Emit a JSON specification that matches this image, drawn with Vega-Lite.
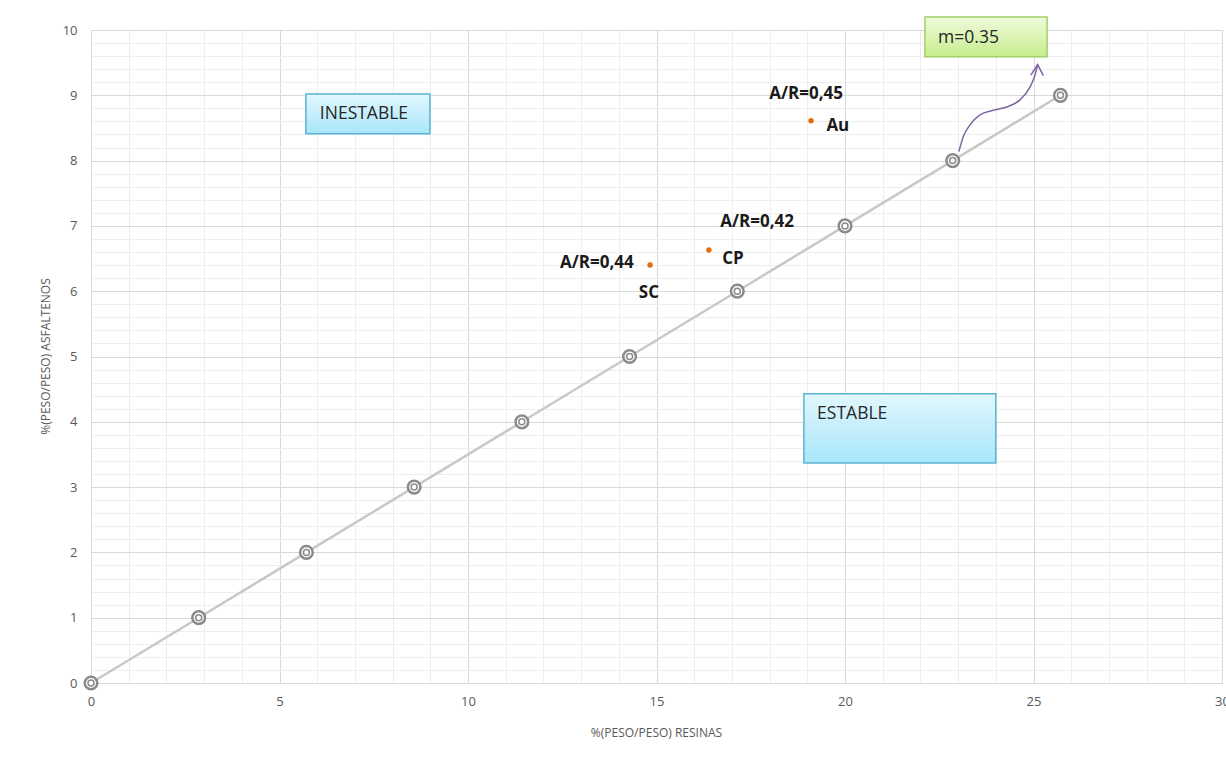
{
  "$schema": "https://vega.github.io/schema/vega-lite/v6.json",
  "width": 1131,
  "height": 653,
  "autosize": {"type": "none"},
  "padding": {"left": 91, "top": 30, "right": 4, "bottom": 79},
  "background": "white",
  "config": {"view": {"stroke": null}, "font": "Open Sans"},
  "datasets": {
    "linea": [
      {"resinas": 0, "asfaltenos": 0},
      {"resinas": 2.857, "asfaltenos": 1},
      {"resinas": 5.714, "asfaltenos": 2},
      {"resinas": 8.571, "asfaltenos": 3},
      {"resinas": 11.429, "asfaltenos": 4},
      {"resinas": 14.286, "asfaltenos": 5},
      {"resinas": 17.143, "asfaltenos": 6},
      {"resinas": 20, "asfaltenos": 7},
      {"resinas": 22.857, "asfaltenos": 8},
      {"resinas": 25.714, "asfaltenos": 9}
    ],
    "muestras": [
      {"resinas": 14.83, "asfaltenos": 6.40, "muestra": "SC"},
      {"resinas": 16.39, "asfaltenos": 6.63, "muestra": "CP"},
      {"resinas": 19.10, "asfaltenos": 8.61, "muestra": "Au"}
    ],
    "etiquetas": [
      {"resinas": 13.42, "asfaltenos": 6.43, "texto": "A/R=0,44"},
      {"resinas": 14.80, "asfaltenos": 5.97, "texto": "SC"},
      {"resinas": 17.67, "asfaltenos": 7.06, "texto": "A/R=0,42"},
      {"resinas": 17.03, "asfaltenos": 6.49, "texto": "CP"},
      {"resinas": 18.97, "asfaltenos": 9.02, "texto": "A/R=0,45"},
      {"resinas": 19.81, "asfaltenos": 8.53, "texto": "Au"}
    ],
    "cajas_azules": [
      {"resinas": 5.70, "resinas2": 8.99, "asfaltenos": 9.02, "asfaltenos2": 8.41},
      {"resinas": 18.91, "resinas2": 24.0, "asfaltenos": 4.43, "asfaltenos2": 3.37}
    ],
    "caja_verde": [
      {"resinas": 22.12, "resinas2": 25.36, "asfaltenos": 10.20, "asfaltenos2": 9.59}
    ],
    "textos_cajas": [
      {"resinas": 6.07, "asfaltenos": 8.71, "texto": "INESTABLE"},
      {"resinas": 19.26, "asfaltenos": 4.12, "texto": "ESTABLE"},
      {"resinas": 22.47, "asfaltenos": 9.88, "texto": "m=0.35"}
    ],
    "flecha": [
      {"resinas": 23.02, "asfaltenos": 8.14},
      {"resinas": 23.14, "asfaltenos": 8.37},
      {"resinas": 23.32, "asfaltenos": 8.55},
      {"resinas": 23.58, "asfaltenos": 8.70},
      {"resinas": 23.93, "asfaltenos": 8.77},
      {"resinas": 24.29, "asfaltenos": 8.82},
      {"resinas": 24.64, "asfaltenos": 8.93},
      {"resinas": 24.91, "asfaltenos": 9.13},
      {"resinas": 25.04, "asfaltenos": 9.31},
      {"resinas": 25.11, "asfaltenos": 9.47}
    ],
    "punta": [
      {"resinas": 24.93, "asfaltenos": 9.31},
      {"resinas": 25.11, "asfaltenos": 9.47},
      {"resinas": 25.26, "asfaltenos": 9.30}
    ]
  },
  "layer": [
    {
      "data": {"name": "linea"},
      "mark": {"type": "line", "color": "#c8c8c8", "strokeWidth": 2.5},
      "encoding": {
        "x": {
          "field": "resinas", "type": "quantitative",
          "scale": {"domain": [0, 30], "nice": false, "zero": false},
          "axis": {
            "title": "%(PESO/PESO) RESINAS",
            "values": [0,1,2,3,4,5,6,7,8,9,10,11,12,13,14,15,16,17,18,19,20,21,22,23,24,25,26,27,28,29,30],
            "tickCount": 100,
            "labelExpr": "datum.value % 5 === 0 ? format(datum.value, 'd') : ''",
            "gridColor": {"condition": {"test": "datum.value % 5 === 0", "value": "#d9d9d9"}, "value": "#eeeeee"},
            "gridWidth": 1,
            "domain": false, "ticks": false,
            "labelPadding": 12, "labelColor": "#595959", "labelFontSize": 13,
            "labelFlush": false, "labelOverlap": false,
            "titleColor": "#595959", "titleFontSize": 12, "titleFontWeight": "normal",
            "titleX": 565, "titleY": 49, "titleBaseline": "middle", "titleAlign": "center"
          }
        },
        "y": {
          "field": "asfaltenos", "type": "quantitative",
          "scale": {"domain": [0, 10], "nice": false, "zero": false},
          "axis": {
            "title": "%(PESO/PESO) ASFALTENOS",
            "values": [0,0.2,0.4,0.6,0.8,1,1.2,1.4,1.6,1.8,2,2.2,2.4,2.6,2.8,3,3.2,3.4,3.6,3.8,4,4.2,4.4,4.6,4.8,5,5.2,5.4,5.6,5.8,6,6.2,6.4,6.6,6.8,7,7.2,7.4,7.6,7.8,8,8.2,8.4,8.6,8.8,9,9.2,9.4,9.6,9.8,10],
            "tickCount": 100,
            "labelExpr": "abs(datum.value - round(datum.value)) < 0.001 ? format(datum.value, 'd') : ''",
            "gridColor": {"condition": {"test": "abs(datum.value - round(datum.value)) < 0.001", "value": "#d9d9d9"}, "value": "#eeeeee"},
            "gridWidth": 1,
            "domain": false, "ticks": false,
            "labelPadding": 14, "labelColor": "#595959", "labelFontSize": 13,
            "labelFlush": false, "labelOverlap": false,
            "titleColor": "#595959", "titleFontSize": 12, "titleFontWeight": "normal",
            "titleX": -46, "titleY": 326, "titleAngle": -90, "titleBaseline": "middle", "titleAlign": "center"
          }
        }
      }
    },
    {
      "data": {"name": "linea"},
      "mark": {"type": "point", "shape": "circle", "size": 160, "filled": false, "fill": "white", "fillOpacity": 1, "stroke": "#8a8a8a", "strokeWidth": 2.5, "opacity": 1},
      "encoding": {
        "x": {"field": "resinas", "type": "quantitative"},
        "y": {"field": "asfaltenos", "type": "quantitative"}
      }
    },
    {
      "data": {"name": "linea"},
      "mark": {"type": "point", "shape": "circle", "size": 36, "filled": false, "stroke": "#8a8a8a", "strokeWidth": 1.5, "opacity": 1},
      "encoding": {
        "x": {"field": "resinas", "type": "quantitative"},
        "y": {"field": "asfaltenos", "type": "quantitative"}
      }
    },
    {
      "data": {"name": "muestras"},
      "mark": {"type": "point", "shape": "circle", "size": 30, "filled": true, "color": "#e46c0a", "opacity": 1},
      "encoding": {
        "x": {"field": "resinas", "type": "quantitative"},
        "y": {"field": "asfaltenos", "type": "quantitative"}
      }
    },
    {
      "data": {"name": "etiquetas"},
      "mark": {"type": "text", "fontSize": 17, "fontWeight": "bold", "color": "#1a1a1a", "align": "center", "baseline": "middle", "font": "Open Sans"},
      "encoding": {
        "x": {"field": "resinas", "type": "quantitative"},
        "y": {"field": "asfaltenos", "type": "quantitative"},
        "text": {"field": "texto"}
      }
    },
    {
      "data": {"name": "cajas_azules"},
      "mark": {
        "type": "rect",
        "fill": {"gradient": "linear", "x1": 0, "y1": 0, "x2": 0, "y2": 1,
                 "stops": [{"offset": 0, "color": "#e2f7fd"}, {"offset": 1, "color": "#a8e6fb"}]},
        "stroke": "#5ab3d2", "strokeWidth": 1.5
      },
      "encoding": {
        "x": {"field": "resinas", "type": "quantitative"},
        "x2": {"field": "resinas2"},
        "y": {"field": "asfaltenos", "type": "quantitative"},
        "y2": {"field": "asfaltenos2"}
      }
    },
    {
      "data": {"name": "caja_verde"},
      "mark": {
        "type": "rect",
        "fill": {"gradient": "linear", "x1": 0, "y1": 0, "x2": 0, "y2": 1,
                 "stops": [{"offset": 0, "color": "#f0fbdc"}, {"offset": 1, "color": "#c6ed8c"}]},
        "stroke": "#a3cf68", "strokeWidth": 1.5
      },
      "encoding": {
        "x": {"field": "resinas", "type": "quantitative"},
        "x2": {"field": "resinas2"},
        "y": {"field": "asfaltenos", "type": "quantitative"},
        "y2": {"field": "asfaltenos2"}
      }
    },
    {
      "data": {"name": "textos_cajas"},
      "mark": {"type": "text", "fontSize": 17.5, "color": "#262626", "align": "left", "baseline": "middle", "font": "Open Sans"},
      "encoding": {
        "x": {"field": "resinas", "type": "quantitative"},
        "y": {"field": "asfaltenos", "type": "quantitative"},
        "text": {"field": "texto"}
      }
    },
    {
      "data": {"name": "flecha"},
      "mark": {"type": "line", "color": "#8064a2", "strokeWidth": 1.5, "interpolate": "monotone"},
      "encoding": {
        "x": {"field": "resinas", "type": "quantitative"},
        "y": {"field": "asfaltenos", "type": "quantitative"}
      }
    },
    {
      "data": {"name": "punta"},
      "mark": {"type": "line", "color": "#8064a2", "strokeWidth": 1.5},
      "encoding": {
        "x": {"field": "resinas", "type": "quantitative"},
        "y": {"field": "asfaltenos", "type": "quantitative"}
      }
    },
    {
      "mark": {"type": "rule", "color": "#d9d9d9", "strokeWidth": 1.5},
      "encoding": {
        "x": {"datum": -2.12},
        "y": {"datum": -1.3},
        "y2": {"datum": 10.31}
      }
    },
    {
      "mark": {"type": "rule", "color": "#d9d9d9", "strokeWidth": 1.5},
      "encoding": {
        "x": {"datum": -2.12},
        "x2": {"datum": 30.2},
        "y": {"datum": 10.31}
      }
    }
  ]
}
